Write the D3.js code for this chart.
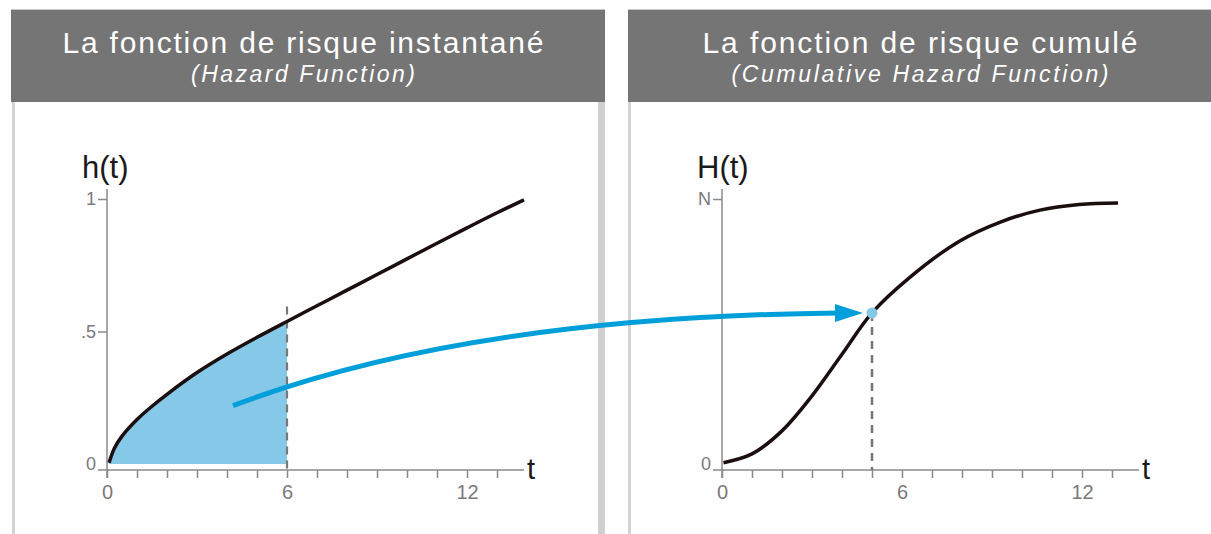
<!DOCTYPE html>
<html><head><meta charset="utf-8">
<script src="https://cdn.jsdelivr.net/npm/d3@7"></script>
<style>
body{margin:0;background:#fff}
svg{display:block;font-family:"Liberation Sans",Arial,Helvetica,sans-serif}
</style>
</head><body><svg id="c" width="1211" height="534"></svg>
<script>
// ---------- data ----------
const tickT = [0,1,2,3,4,5,6,7,8,9,10,11,12,13];
const labelT = [0,6,12];
const hazardT = [0.07,0.25,0.5,1,1.5,2,3,4,5,6,7,8,9,10,11,12,13,13.9];
const hazardH = [0.005,0.06,0.105,0.168,0.218,0.263,0.345,0.415,0.478,0.538,0.597,0.656,0.715,0.774,0.833,0.891,0.948,0.997];
const cumT = [0.05,1,2,3,4,5,6.3,7.9,9.3,10.6,11.9,13.2];
const cumH = [0.005,0.038,0.125,0.257,0.414,0.570,0.708,0.84,0.914,0.958,0.979,0.985];
const leftTicksY = [0,0.5,1];
const leftTickLabelsY = ["0",".5","1"];
const rightTicksY = [0,1];
const rightTickLabelsY = ["0","N"];
const shadeUntil = 6;
const markT = 5, markH = 0.57;
const arrowFrom = {t:4.2, h:0.22};
const titles = ["La fonction de risque instantané","La fonction de risque cumulé"];
const subtitles = ["(Hazard Function)","(Cumulative Hazard Function)"];

const svg = d3.select("#c");
const W = 1211, H = 534;
svg.append("rect").attr("width",W).attr("height",H).attr("fill","#fefefe");

// ---------- panels ----------
const panels = [
  {x0:11, x1:605, cx:303, titleW:481, subW:224, borderL:[12,3], borderR:[598,7]},
  {x0:628, x1:1211, cx:920, titleW:435, subW:377, borderL:[628,3], borderR:null}
];
panels.forEach((p,i)=>{
  svg.append("rect").attr("x",p.borderL[0]).attr("y",102).attr("width",p.borderL[1]).attr("height",H-102).attr("fill","#d4d4d4");
  if(p.borderR) svg.append("rect").attr("x",p.borderR[0]).attr("y",102).attr("width",p.borderR[1]).attr("height",H-102).attr("fill","#d0d0d0");
  svg.append("rect").attr("x",p.x0).attr("y",9).attr("width",p.x1-p.x0).attr("height",1).attr("fill","#c8c8c8");
  svg.append("rect").attr("x",p.x0).attr("y",10).attr("width",p.x1-p.x0).attr("height",92).attr("fill","#747574");
  svg.append("text").attr("x",p.cx).attr("y",53).attr("text-anchor","middle")
    .style("font-size","30px").attr("fill","#fff").attr("textLength",p.titleW).attr("lengthAdjust","spacing").text(titles[i]);
  svg.append("text").attr("x",p.cx).attr("y",82).attr("text-anchor","middle")
    .style("font-size","23px").style("font-style","italic").attr("fill","#fff").attr("textLength",p.subW).attr("lengthAdjust","spacing").text(subtitles[i]);
});

// ---------- scales ----------
const unit = 30;
const xL = d3.scaleLinear().domain([0,14]).range([107,107+14*unit]);
const xR = d3.scaleLinear().domain([0,14]).range([722,722+14*unit]);
const yS = d3.scaleLinear().domain([0,1]).range([464,199]);
const axisY = 470;
const axisColor = "#8a8a8a", labelColor = "#7a7a7a";

function drawAxes(x, tickVals, tickLabs, yTitle){
  const g = svg.append("g");
  const ax = d3.axisBottom(x).tickValues(tickT).tickSize(8).tickPadding(7)
    .tickFormat(d=>labelT.includes(d)?String(d):"");
  const gx = g.append("g").attr("transform",`translate(0,${axisY})`).call(ax);
  gx.attr("font-size",null).attr("font-family",null);
  gx.select(".domain").remove();
  gx.selectAll("line").attr("stroke",axisColor).attr("stroke-width",1.5);
  gx.selectAll("text").style("font-size","20px").attr("fill",labelColor);
  g.append("line").attr("x1",x(0)-9).attr("x2",x(13.9)).attr("y1",axisY).attr("y2",axisY)
    .attr("stroke",axisColor).attr("stroke-width",1.5);
  const ay = d3.axisLeft(yS).tickValues(tickVals).tickSize(9).tickPadding(2)
    .tickFormat((d,i)=>tickLabs[i]);
  const gy = g.append("g").attr("transform",`translate(${x(0)},0)`).call(ay);
  gy.attr("font-size",null).attr("font-family",null);
  gy.select(".domain").remove();
  gy.selectAll("line").attr("stroke",axisColor).attr("stroke-width",1.5).attr("opacity",d=>d===0?0:1);
  gy.selectAll("text").style("font-size","18px").attr("fill",labelColor);
  g.append("line").attr("x1",x(0)).attr("x2",x(0)).attr("y1",yS(1)-10).attr("y2",axisY+8)
    .attr("stroke",axisColor).attr("stroke-width",1.5);
  g.append("text").attr("x",x(0)-25).attr("y",178).style("font-size","31px").attr("fill","#1a1a1a").text(yTitle);
  g.append("text").attr("x",x(13.9)+3).attr("y",479).style("font-size","29px").attr("fill","#1a1a1a").text("t");
}
drawAxes(xL, leftTicksY, leftTickLabelsY, "h(t)");
drawAxes(xR, rightTicksY, rightTickLabelsY, "H(t)");

const smooth = d3.curveCatmullRom.alpha(0.5);

// ---------- left: hazard ----------
const hz = hazardT.map((t,i)=>({t, v:hazardH[i]}));
const shadeData = hz.filter(d=>d.t<=shadeUntil);
svg.append("path").datum(shadeData)
  .attr("d",d3.area().x(d=>xL(d.t)).y0(yS(0)).y1(d=>yS(d.v)).curve(smooth))
  .attr("fill","#86c8e8");
svg.append("line").attr("x1",xL(shadeUntil)).attr("x2",xL(shadeUntil))
  .attr("y1",yS(0.538)-15).attr("y2",axisY)
  .attr("stroke","#777").attr("stroke-width",2.2).attr("stroke-dasharray","8,6");
svg.append("path").datum(hz)
  .attr("d",d3.line().x(d=>xL(d.t)).y(d=>yS(d.v)).curve(smooth))
  .attr("fill","none").attr("stroke","#1a0e0e").attr("stroke-width",3.5);

// ---------- right: cumulative ----------
const cz = cumT.map((t,i)=>({t, v:cumH[i]}));
svg.append("line").attr("x1",xR(markT)).attr("x2",xR(markT))
  .attr("y1",yS(markH)).attr("y2",axisY)
  .attr("stroke","#777").attr("stroke-width",2.5).attr("stroke-dasharray","8,6");
svg.append("path").datum(cz)
  .attr("d",d3.line().x(d=>xR(d.t)).y(d=>yS(d.v)).curve(smooth))
  .attr("fill","none").attr("stroke","#1a0e0e").attr("stroke-width",3.5);

// ---------- arrow ----------
const sx = xL(arrowFrom.t), sy = yS(arrowFrom.h);
const tipX = xR(markT)-9, tipY = yS(markH);
const ex = tipX-25, ey = tipY;
const p = d3.path();
p.moveTo(sx,sy);
p.bezierCurveTo(sx+187, sy-71, ex-190, ey+2, ex, ey);
svg.append("path").attr("d",p.toString()).attr("fill","none")
  .attr("stroke","#009fda").attr("stroke-width",5);
svg.append("path").attr("d",`M${tipX},${tipY}L${tipX-28},${tipY-9}L${tipX-28},${tipY+9}Z`).attr("fill","#009fda");
svg.append("circle").attr("cx",xR(markT)).attr("cy",yS(markH)).attr("r",5.5).attr("fill","#86c8e8");
</script>
</body></html>
